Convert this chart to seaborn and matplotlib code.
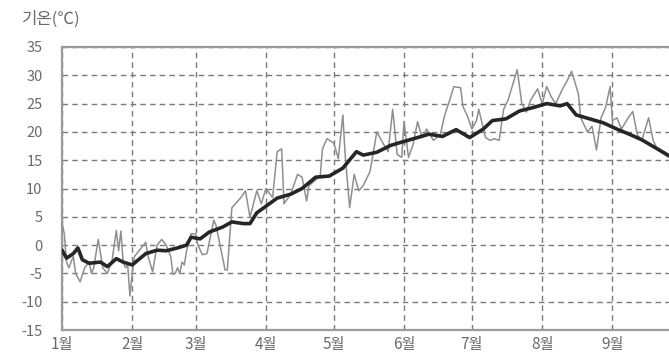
import numpy as np
import pandas as pd
import matplotlib
matplotlib.use("Agg")
import matplotlib.pyplot as plt
import seaborn as sns

# Month tick positions (day of year) and labels
month_days = [0, 31, 59, 90, 120, 151, 181, 212, 243]
month_labels = ["1월", "2월", "3월", "4월", "5월", "6월", "7월", "8월", "9월"]
y_ticks = [-15, -10, -5, 0, 5, 10, 15, 20, 25, 30, 35]

# Daily observed temperature (thin gray line)
obs_day = [0, 1, 2, 3, 5, 6, 8, 10, 12, 13, 14, 16, 18, 20, 22, 24, 25, 26, 27, 28, 29, 30, 31,
           32, 34, 36, 37, 38, 40, 42, 44, 46, 48, 49, 50, 51, 52, 53, 54, 55, 57,
           59, 60, 62, 64, 67, 68, 72, 73, 75, 79, 81, 83, 86, 88, 90, 93, 95, 97, 98,
           101, 104, 106, 108, 109, 114, 115, 117, 120, 122, 124, 125, 127, 129, 131, 133,
           136, 139, 142, 144, 146, 148, 150, 151, 153, 155, 157, 159, 161, 164, 167, 169,
           171, 173, 176, 177, 179, 181, 183, 184, 187, 189, 191, 193, 195, 197, 201, 203,
           205, 207, 210, 212, 214, 216, 218, 221, 223, 225, 228, 229, 232, 234, 236, 238,
           240, 242, 243, 245, 247, 250, 252, 254, 256, 259, 261, 263, 266, 268]
obs_temp = [4, 2, -3, -4, -2, -5, -6.5, -4, -3, -5, -4, 1, -4, -5, -3, 2.6, -1, 2.5, -3, -4, -3.5, -9, -5,
            -2, -1, 0, 0.5, -2, -4.7, 0, 1, 0, -2, -5.2, -5, -4, -5, -3, -3.5, -1, 2,
            2, 0, -1.7, -1.5, 4.4, 3.5, -4.4, -4.4, 6.6, 8.4, 9.6, 4.9, 9.6, 7.3, 10, 8.4, 16.5, 17, 7.3,
            9, 12.5, 12, 7.8, 10.5, 12.2, 17, 18.8, 18, 15.3, 23, 16, 6.6, 12.5, 9.6, 10.5,
            13, 20, 17.8, 16.5, 24, 16, 15.5, 21.8, 15.5, 17.8, 21.8, 19, 20.5, 18.5, 19.5, 23,
            25.4, 28, 27.8, 24.5, 22.8, 20.5, 22, 24, 19, 18.5, 18.8, 18.5, 24, 25.7, 31, 25,
            23.5, 25.7, 27.6, 25, 28, 26.2, 25, 27.6, 29, 30.7, 26.7, 22.5, 20, 21, 16.8, 22.5,
            24.3, 28, 22, 22.5, 20.5, 22.5, 23.6, 19.5, 18.5, 22.5, 18.5, 16.8, 16, 15.5]

# Normal (average) temperature (thick dark line)
norm_day = [0, 2, 5, 7, 9, 12, 17, 20, 24, 27, 31, 34, 37, 42, 46, 51, 55, 57, 61, 65, 71, 75,
            80, 83, 86, 95, 101, 106, 112, 118, 124, 130, 133, 139, 145, 150, 157, 162, 168,
            174, 180, 186, 190, 196, 202, 208, 214, 220, 223, 227, 233, 239, 245, 251, 256,
            262, 268]
norm_temp = [-0.9, -2.3, -1.5, -0.5, -2.6, -3.2, -3, -3.8, -2.4, -3, -3.5, -2.5, -1.5, -0.9, -1,
             -0.5, 0, 1.4, 1.1, 2.3, 3.2, 4.1, 3.8, 3.8, 5.7, 8.3, 9, 10, 12, 12.2, 13.6, 16.5,
             15.9, 16.4, 17.6, 18.2, 19, 19.6, 19.2, 20.4, 19, 20.5, 22, 22.3, 23.7, 24.3, 25,
             24.6, 25, 23, 22.3, 21.6, 20.5, 19.5, 18.6, 17.2, 15.8]

obs = pd.DataFrame({"day": obs_day, "temp": obs_temp})
norm = pd.DataFrame({"day": norm_day, "temp": norm_temp})

sns.set_theme(style="white")
plt.rcParams["font.family"] = ["Noto Sans CJK KR", "DejaVu Sans"]

fig = plt.figure(figsize=(6.69, 3.60), dpi=100)
ax = fig.add_axes([62 / 669, 30 / 360, 1 - 62 / 669, (330 - 47) / 360])

sns.lineplot(data=obs, x="day", y="temp", ax=ax, color="#8f8f8f", linewidth=1.1,
             estimator=None, sort=False, zorder=3)
sns.lineplot(data=norm, x="day", y="temp", ax=ax, color="#262626", linewidth=2.6,
             estimator=None, sort=False, zorder=4)

ax.set_xlim(0, 268)
ax.set_ylim(-15, 35)
ax.set_xticks(month_days)
ax.set_xticklabels(month_labels)
ax.set_yticks(y_ticks)
ax.set_yticklabels([str(v) for v in y_ticks])
ax.set_xlabel("")
ax.set_ylabel("")

ax.set_axisbelow(True)
ax.xaxis.grid(True, which="major", color="#7a7a7a", linestyle=(0, (4, 3)), linewidth=1.0)
ax.yaxis.grid(True, which="major", color="#7a7a7a", linestyle=(0, (4, 3)), linewidth=1.0)

for side in ["left", "bottom", "top"]:
    ax.spines[side].set_visible(True)
    ax.spines[side].set_color("#9a9a9a")
    ax.spines[side].set_linewidth(1.6)
ax.spines["right"].set_visible(False)

ax.tick_params(axis="both", length=0, labelcolor="#6a6a6a")
ax.tick_params(axis="y", pad=14, labelsize=10.5)
ax.tick_params(axis="x", pad=4, labelsize=11)

fig.text(22 / 669, 1 - 19 / 360, "기온(℃)", fontsize=12, color="#6a6a6a",
         ha="left", va="center")

fig.savefig("out.png", dpi=100, facecolor="white")
